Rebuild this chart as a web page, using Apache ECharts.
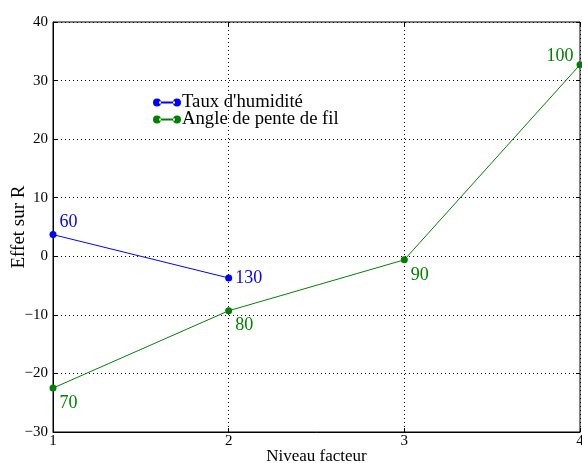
<!DOCTYPE html>
<html><head><meta charset="utf-8">
<script src="https://cdn.jsdelivr.net/npm/echarts@6/dist/echarts.min.js"></script>
<style>html,body{margin:0;padding:0;background:#fff}#c{width:582px;height:463px}</style>
</head><body><div id="c"></div>
<script>
const levels = [1, 2, 3, 4];
const humiditeValues = [3.7, -3.7];
const humiditeLabels = ['60', '130'];
const penteValues = [-22.5, -9.3, -0.6, 32.7];
const penteLabels = ['70', '80', '90', '100'];
const yTicks = [-30, -20, -10, 0, 10, 20, 30, 40];
const seriesNames = ["Taux d'humidité", 'Angle de pente de fil'];

const font = 'Liberation Serif';
const blue = '#0000ff', green = '#008000';
const minus = v => String(v).replace('-', '\u2212');

const humLabelStyle = [
  {position: 'right', offset: [0, -12]},
  {position: 'right', offset: [0, 0]}
];
const penteLabelStyle = [
  {position: 'right', offset: [0, 15]},
  {position: 'right', offset: [0, 15]},
  {position: 'right', offset: [0, 15]},
  {position: 'left', offset: [0, -8]}
];

const icon = 'path://M0,5a4,4 0 1,0 8,0a4,4 0 1,0 -8,0M6,4H22V6H6ZM20,5a4,4 0 1,0 8,0a4,4 0 1,0 -8,0';

const chart = echarts.init(document.getElementById('c'));
chart.setOption({
  animation: false,
  textStyle: {fontFamily: font},
  grid: {left: 53, right: 2, top: 22, bottom: 31, show: true, borderColor: '#000', borderWidth: 1,
         containLabel: false, outerBoundsMode: 'none'},
  legend: {
    orient: 'vertical', left: 148, top: 88, itemGap: -2,
    itemWidth: 28, itemHeight: 10,
    textStyle: {fontFamily: font, fontSize: 18.7, color: '#000', padding: [0, 0, 0, -4]},
    data: [{name: seriesNames[0], icon: icon}, {name: seriesNames[1], icon: icon}]
  },
  xAxis: [{
    type: 'value', min: levels[0], max: levels[levels.length - 1], interval: 1,
    name: 'Niveau facteur', nameLocation: 'middle', nameGap: 16, nameMoveOverlap: false,
    nameTextStyle: {fontFamily: font, fontSize: 17, color: '#000', verticalAlign: 'top'},
    axisLine: {onZero: false, lineStyle: {color: '#000'}},
    axisTick: {inside: true, length: 4, lineStyle: {color: '#000'}},
    axisLabel: {fontFamily: font, fontSize: 15, color: '#000', margin: 2},
    splitLine: {show: true, lineStyle: {type: [1, 3], color: '#000'}}
  }, {
    type: 'value', position: 'top', min: 1, max: 4, interval: 1,
    axisLine: {show: false, onZero: false}, axisLabel: {show: false},
    axisTick: {inside: true, length: 4, lineStyle: {color: '#000'}},
    splitLine: {show: false}
  }],
  yAxis: [{
    type: 'value', min: yTicks[0], max: yTicks[yTicks.length - 1], interval: 10,
    name: 'Effet sur R', nameLocation: 'middle', nameGap: 24, nameMoveOverlap: false,
    nameTextStyle: {fontFamily: font, fontSize: 19, color: '#000'},
    axisLine: {show: true, onZero: false, lineStyle: {color: '#000'}},
    axisTick: {inside: true, length: 4, lineStyle: {color: '#000'}},
    axisLabel: {fontFamily: font, fontSize: 15, color: '#000', margin: 5, formatter: minus},
    splitLine: {show: true, lineStyle: {type: [1, 3], color: '#000'}}
  }, {
    type: 'value', position: 'right', min: -30, max: 40, interval: 10,
    axisLine: {show: false, onZero: false}, axisLabel: {show: false},
    axisTick: {show: true, inside: true, length: 4, lineStyle: {color: '#000'}},
    splitLine: {show: false}
  }],
  series: [{
    name: seriesNames[0], type: 'line', color: blue,
    symbol: 'circle', symbolSize: 7, lineStyle: {width: 1},
    data: humiditeValues.map((v, i) => ({
      value: [levels[i], v],
      label: Object.assign({show: true, formatter: humiditeLabels[i], color: blue, fontSize: 18, fontFamily: font, distance: 3}, humLabelStyle[i])
    }))
  }, {
    name: seriesNames[1], type: 'line', color: green,
    symbol: 'circle', symbolSize: 7, lineStyle: {width: 1},
    data: penteValues.map((v, i) => ({
      value: [levels[i], v],
      label: Object.assign({show: true, formatter: penteLabels[i], color: green, fontSize: 18, fontFamily: font, distance: 3}, penteLabelStyle[i])
    }))
  }]
});
</script></body></html>
